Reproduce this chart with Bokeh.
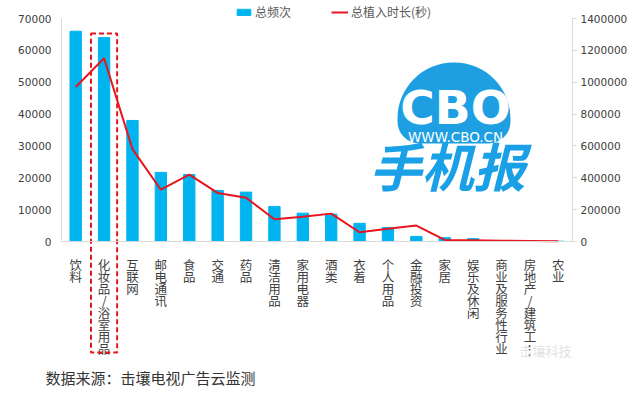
from bokeh.plotting import figure
from bokeh.models import (FactorRange, Range1d, LinearAxis, SingleIntervalTicker,
                          BasicTickFormatter, Legend, LegendItem, BoxAnnotation, Label,
                          ColumnDataSource, Span, Title)
from bokeh.core.properties import value
from bokeh.embed import file_html
from bokeh.resources import INLINE

categories = ["饮料", "化妆品/浴室用品", "互联网", "邮电通讯", "食品", "交通", "药品",
              "清洁用品", "家用电器", "酒类", "衣着", "个人用品", "金融投资", "家居",
              "娱乐及休闲", "商业及服务性行业", "房地产/建筑工…", "农业"]
frequency = [66000, 64000, 38000, 21700, 21000, 16000, 15500, 11000, 8900, 8600,
             5700, 4400, 1600, 1200, 900, 300, 200, 100]
duration = [970000, 1150000, 580000, 325000, 420000, 305000, 275000, 140000, 155000,
            175000, 58000, 80000, 100000, 10000, 8000, 5000, 3000, 1000]
highlight = "化妆品/浴室用品"

CJK = "Noto Sans CJK SC"
NUM = "DejaVu Sans"
BLUE = "#00B4F0"
RED = "#E8141E"
GRAY = "#D9D9D9"

LEFT_MAX, RIGHT_MAX = 70000, 1400000
PLOT_PX = 223          # pixels from 0 to the top tick
TOP_PX = 18            # frame room above the top tick (legend)
EXT_PX = 119           # frame extension below 0 for the category labels
l_per_px = LEFT_MAX / PLOT_PX
r_per_px = RIGHT_MAX / PLOT_PX

src = ColumnDataSource(dict(cat=categories, freq=frequency, dur=duration))

p = figure(x_range=FactorRange(factors=categories),
           y_range=Range1d(-EXT_PX * l_per_px, LEFT_MAX + TOP_PX * l_per_px),
           width=640, height=398, output_backend="svg", toolbar_location=None,
           min_border_left=61, min_border_right=68, min_border_top=0,
           min_border_bottom=38)
p.outline_line_color = None
p.xgrid.visible = False
p.ygrid.visible = False
p.xaxis.visible = False
p.extra_y_ranges = {"dur": Range1d(-EXT_PX * r_per_px, RIGHT_MAX + TOP_PX * r_per_px)}

bars = p.vbar(x="cat", top="freq", width=0.4, source=src, color=BLUE)
line = p.line(x="cat", y="dur", source=src, color=RED, line_width=2,
              y_range_name="dur")

# baseline (category axis line)
p.add_layout(Span(location=0, dimension="width", line_color=GRAY, line_width=1))

# vertical category labels, one character per row
lab_cat, lab_ch, lab_off = [], [], []
for c in categories:
    for k, ch in enumerate(c.replace("…", "⋮")):
        lab_cat.append(c)
        lab_ch.append(ch)
        lab_off.append(13 + 12 * k)
p.text(x="cat", y=0, text="ch", y_offset="off",
       source=ColumnDataSource(dict(cat=lab_cat, ch=lab_ch, off=lab_off)),
       text_font=value(CJK), text_font_size="12.5px", text_color="#404040",
       text_align="center", text_baseline="top")

# axes
ly = p.yaxis[0]
ly.bounds = (0, LEFT_MAX)
ly.ticker = SingleIntervalTicker(interval=10000)
ly.formatter = BasicTickFormatter(use_scientific=False)
ly.major_label_text_font = NUM
ly.major_label_text_font_size = "10.5px"
ly.major_label_text_color = "#404040"
ly.major_tick_out = 0
ly.major_tick_in = 0
ly.minor_tick_out = 0
ly.minor_tick_in = 0
ly.axis_line_color = GRAY
ly.major_label_standoff = 10

ry = LinearAxis(y_range_name="dur", bounds=(0, RIGHT_MAX))
ry.ticker = SingleIntervalTicker(interval=200000)
ry.formatter = BasicTickFormatter(use_scientific=False)
ry.major_label_text_font = NUM
ry.major_label_text_font_size = "10.5px"
ry.major_label_text_color = "#404040"
ry.major_tick_out = 4
ry.major_tick_in = 0
ry.minor_tick_out = 0
ry.minor_tick_in = 0
ry.major_tick_line_color = GRAY
ry.axis_line_color = GRAY
ry.major_label_standoff = 4
p.add_layout(ry, "right")

# highlight box around 化妆品/浴室用品 (covers bar and its label)
hi = categories.index(highlight)
box_top = frequency[hi] + 1300
box_bottom = -111 * l_per_px
p.rect(x=[highlight], y=[(box_top + box_bottom) / 2], width=0.92,
       height=[box_top - box_bottom], fill_alpha=0, line_color=RED,
       line_width=2, line_dash="5 3")

# legend
legend = Legend(items=[LegendItem(label="总频次", renderers=[bars]),
                       LegendItem(label="总植入时长(秒)", renderers=[line])],
                orientation="horizontal", location=(174, 340),
                padding=0, margin=0, spacing=40, glyph_width=17, glyph_height=8,
                label_text_font=CJK, label_text_font_size="12px",
                label_text_color="#595959", label_standoff=3,
                background_fill_alpha=0, border_line_alpha=0)
p.add_layout(legend)

# CBO logo (decoration), screen units relative to frame bottom-left
Y0 = 119  # frame bottom is 119 px below the 0 line
p.add_layout(BoxAnnotation(left=336, right=449, top=179 + Y0, bottom=98 + Y0,
                           left_units="screen", right_units="screen",
                           top_units="screen", bottom_units="screen",
                           fill_color="#1E9FE2", fill_alpha=1, line_alpha=0,
                           border_radius=(56, 56, 22, 22)))
p.add_layout(Label(x=394, y=253, x_units="screen", y_units="screen", text="CBO",
                   text_font="DejaVu Sans", text_font_style="bold",
                   text_font_size="47px", text_color="white", text_align="center",
                   text_baseline="middle"))
p.add_layout(Label(x=394, y=224, x_units="screen", y_units="screen",
                   text="WWW.CBO.CN", text_font="DejaVu Sans",
                   text_font_size="13.5px", text_color="white", text_align="center",
                   text_baseline="middle"))
p.add_layout(Label(x=386, y=196, x_units="screen", y_units="screen", text="手机报",
                   text_font=CJK, text_font_style="bold italic",
                   text_font_size="52px", text_color="#1AA0E6", text_align="center",
                   text_baseline="middle"))

# watermark near the frame's bottom-right corner
p.add_layout(Label(x=458, y=1, x_units="screen", y_units="screen", text="击壤科技",
                   text_font=CJK, text_font_size="13px", text_color="#E2E2E2",
                   text_baseline="bottom"))

# source note below the frame
p.add_layout(Title(text="数据来源：击壤电视广告云监测", align="left", offset=-16,
                   text_font=CJK, text_font_size="15px", text_font_style="normal",
                   text_color="#333333", standoff=9), "below")

open("out.html", "w").write(file_html(p, INLINE))
